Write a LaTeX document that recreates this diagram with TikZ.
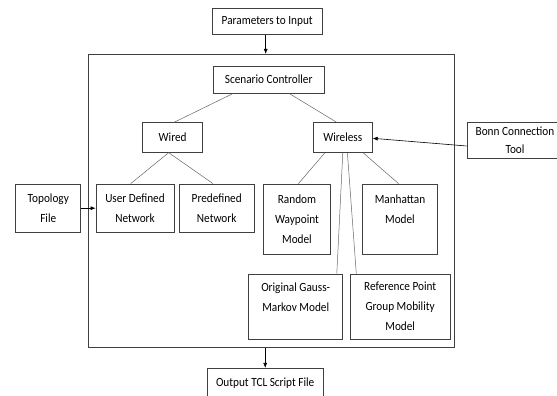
\documentclass[tikz,border=0pt]{standalone}
\usepackage{fontspec}
\setmainfont{Carlito}[FakeStretch=0.9]
\usetikzlibrary{arrows.meta}

\begin{document}
\begin{tikzpicture}[x=1pt,y=-1pt,
    blk/.style={draw=black!75,line width=0.7pt,align=center,inner sep=0pt,
                font=\fontsize{12.5}{20}\selectfont},
    lnk/.style={draw=black!60,line width=0.5pt},
    arr/.style={draw=black,line width=0.6pt,-{Latex[length=5pt,width=4pt]}}]
  \useasboundingbox (0,0) rectangle (557,396);
  \clip (0,0) rectangle (557,396);

  % outer frame and the boxes around it
  \node[draw=black!75,line width=0.7pt,minimum width=366.5,minimum height=293] (frame) at (271.2,200.8) {};
  \node[blk,minimum width=110.5,minimum height=26] (par) at (267.2,21.3) {Parameters to Input};
  \node[blk,minimum width=96,minimum height=36,font=\fontsize{12.5}{18.4}\selectfont] (bonn) at (515,140.5) {Bonn Connection\\Tool};
  \node[blk,minimum width=65,minimum height=48.5] (topo) at (48.3,208.2) {Topology\\File};
  \node[blk,minimum width=116.3,minimum height=30] (out) at (265.2,383.3) {Output TCL Script File};

  % inside the frame
  \node[blk,minimum width=110.5,minimum height=27.3] (sc) at (268.7,79.7) {Scenario Controller};
  \node[blk,minimum width=59.7,minimum height=29.6] (wired) at (172.6,137.5) {Wired};
  \node[blk,minimum width=59,minimum height=29.6] (wireless) at (342.8,137.5) {Wireless};
  \node[blk,minimum width=78,minimum height=48.5] (udn) at (135,208.2) {User Defined\\Network};
  \node[blk,minimum width=74.6,minimum height=48.5] (pred) at (216.7,208.2) {Predefined\\Network};
  \node[blk,minimum width=66.8,minimum height=70] (rw) at (297,219) {Random\\Waypoint\\Model};
  \node[blk,minimum width=75.3,minimum height=70] (man) at (400,219) {Manhattan\\Model\\~};
  \node[blk,minimum width=94,minimum height=65.3] (gauss) at (295.7,306.7) {Original Gauss-\\Markov Model\\~};
  \node[blk,minimum width=100.4,minimum height=65.3] (ref) at (400.2,306.7) {Reference Point\\Group Mobility\\Model};

  % links
  \draw[lnk] ([xshift=-36]sc.south) -- ([xshift=1.4]wired.north);
  \draw[lnk] ([xshift=20.8]sc.south) -- ([xshift=-6]wireless.north);
  \draw[lnk] ([xshift=-3.9]wired.south) -- ([xshift=-4.3]udn.north);
  \draw[lnk] ([xshift=-3.9]wired.south) -- ([xshift=-3.7]pred.north);
  \draw[lnk] ([xshift=-17.8]wireless.south) -- ([xshift=1.4]rw.north);
  \draw[lnk] (wireless.south) -- ([xshift=41.1]gauss.north);
  \draw[lnk] ([xshift=4.6]wireless.south) -- ([xshift=-43.9]ref.north);
  \draw[lnk] ([xshift=20.2]wireless.south) -- ([xshift=-1.4]man.north);

  % arrows
  \draw[arr] ([xshift=-1.5]par.south) -- ([xshift=-1.5]par.south |- frame.north);
  \draw[arr] (frame.south -| out.north) -- (out.north);
  \draw[arr] (topo.east) -- (udn.west);
  \draw[arr] ([yshift=-5.5]bonn.west) -- ([yshift=-0.8]wireless.east);
\end{tikzpicture}
\end{document}
